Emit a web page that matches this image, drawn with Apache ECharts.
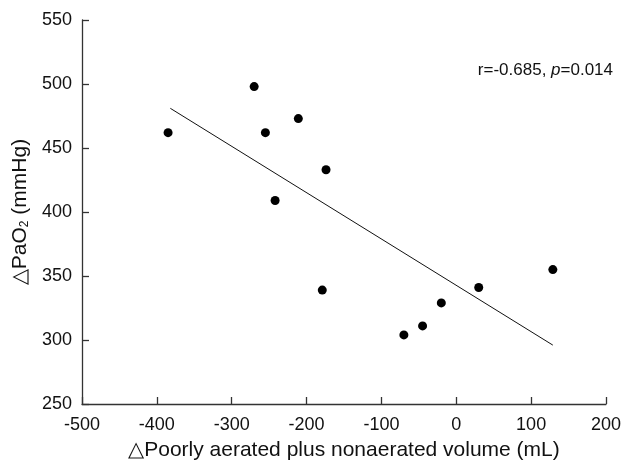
<!DOCTYPE html>
<html>
<head>
<meta charset="utf-8">
<script src="https://cdn.jsdelivr.net/npm/echarts@6/dist/echarts.min.js"></script>
<style>html,body{margin:0;padding:0;background:#fff;}#c{width:624px;height:466px;}</style>
</head>
<body>
<div id="c"></div>
<script>
// Data
const volumeChange = [-385, -270, -255, -242, -211, -174, -179, -70, -45, -20, 30, 129];
const pao2Change   = [462, 498, 462, 409, 473, 433, 339, 304, 311, 329, 341, 355];
const fitX = [-382, 129];
const fitY = [481, 296];
const xTicks = [-500, -400, -300, -200, -100, 0, 100, 200];
const yTicks = [250, 300, 350, 400, 450, 500, 550];
const statText = ['r=-0.685, ', 'p', '=0.014'];

const FONT = '"Liberation Sans", Arial, sans-serif';
const points = volumeChange.map((v, i) => [v, pao2Change[i]]);
const fit = fitX.map((v, i) => [v, fitY[i]]);

const chart = echarts.init(document.getElementById('c'), null, {renderer: 'canvas'});
chart.setOption({
  animation: false,
  backgroundColor: '#fff',
  textStyle: {fontFamily: FONT},
  title: {
    text: statText[0] + '{i|' + statText[1] + '}' + statText[2],
    right: 6, top: 57,
    textStyle: {
      fontFamily: FONT, fontSize: 17, fontWeight: 'normal', color: '#111',
      rich: {i: {fontFamily: FONT, fontSize: 17, fontStyle: 'italic', color: '#111'}}
    }
  },
  grid: {left: 82, right: 13, top: 20, bottom: 62},
  xAxis: {
    type: 'value', min: xTicks[0], max: xTicks[xTicks.length - 1], interval: 100,
    name: '\u25B3Poorly aerated plus nonaerated volume (mL)',
    nameLocation: 'middle', nameGap: 36,
    nameTextStyle: {fontFamily: FONT, fontSize: 21, color: '#111'},
    axisLine: {onZero: false, lineStyle: {color: '#333', width: 1.3}},
    axisTick: {inside: true, length: 7, lineStyle: {color: '#333', width: 1.3}},
    axisLabel: {fontFamily: FONT, fontSize: 18, color: '#111', margin: 12},
    splitLine: {show: false}
  },
  yAxis: {
    type: 'value', min: yTicks[0], max: yTicks[yTicks.length - 1], interval: 50,
    name: '\u25B3PaO{sub|2} (mmHg)',
    nameLocation: 'middle', nameGap: 46,
    nameTextStyle: {fontFamily: FONT, fontSize: 21, color: '#111',
      rich: {sub: {fontFamily: FONT, fontSize: 12, color: '#111', verticalAlign: 'bottom', padding: [8, 0, 0, 0]}}},
    axisLine: {onZero: false, lineStyle: {color: '#333', width: 1.3}},
    axisTick: {inside: true, length: 7, lineStyle: {color: '#333', width: 1.3}},
    axisLabel: {fontFamily: FONT, fontSize: 18, color: '#111', margin: 10},
    splitLine: {show: false}
  },
  series: [
    {
      type: 'scatter', data: points, symbolSize: 9,
      itemStyle: {color: '#000', opacity: 1}
    },
    {
      type: 'line', data: fit, symbol: 'none',
      lineStyle: {color: '#111', width: 1}
    }
  ]
});
</script>
</body>
</html>
